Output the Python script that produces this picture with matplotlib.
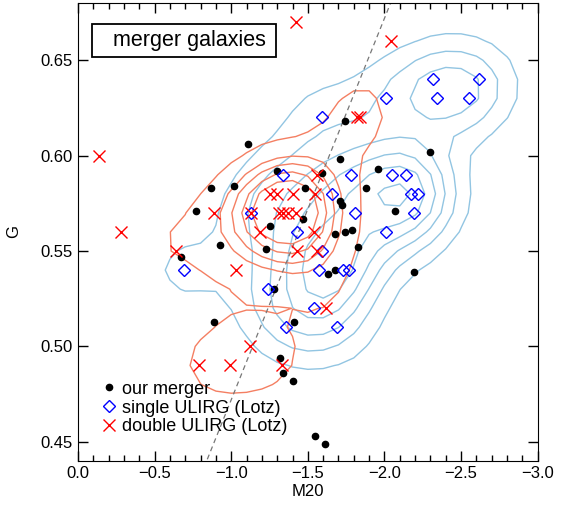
import numpy as np
import matplotlib.pyplot as plt
from matplotlib.patches import Rectangle
from matplotlib.ticker import MultipleLocator, FuncFormatter

plt.rcParams['font.family'] = ['Liberation Sans', 'DejaVu Sans']

# our merger sample
merger_m20 = [-1.11, -0.87, -1.02, -0.77, -0.93, -0.67, -0.89, -1.30, -1.48, -1.74,
              -1.71, -1.59, -1.96, -1.88, -2.30, -1.25, -1.23, -1.28, -1.71, -1.72,
              -1.47, -2.07, -1.68, -1.74, -1.79, -1.83, -1.63, -1.68, -2.19, -1.41,
              -1.32, -1.34, -1.40, -1.55, -1.61]
merger_g = [0.606, 0.583, 0.584, 0.571, 0.553, 0.547, 0.513, 0.592, 0.583, 0.618,
            0.598, 0.591, 0.593, 0.583, 0.602, 0.563, 0.551, 0.530, 0.576, 0.574,
            0.567, 0.571, 0.559, 0.560, 0.561, 0.552, 0.538, 0.540, 0.539, 0.513,
            0.494, 0.486, 0.482, 0.453, 0.449]

# Lotz single ULIRGs
single_m20 = [-1.34, -1.59, -2.01, -2.32, -2.62, -2.34, -2.55, -1.78, -2.05, -2.14,
              -1.66, -1.81, -2.17, -2.22, -2.19, -2.01, -1.59, -1.57, -1.73, -1.77,
              -1.54, -1.69, -1.13, -1.43, -0.69, -1.24, -1.36]
single_g = [0.59, 0.62, 0.63, 0.64, 0.64, 0.63, 0.63, 0.59, 0.59, 0.59,
            0.58, 0.57, 0.58, 0.58, 0.57, 0.56, 0.55, 0.54, 0.54, 0.54,
            0.52, 0.51, 0.57, 0.56, 0.54, 0.53, 0.51]

# Lotz double ULIRGs
double_m20 = [-1.42, -2.04, -1.82, -1.84, -0.14, -1.56, -1.55, -1.25, -1.30, -1.40,
              -0.89, -1.13, -1.31, -1.34, -1.37, -1.42, -0.28, -1.19, -1.54, -0.64,
              -1.43, -1.56, -1.03, -1.62, -1.12, -0.79, -0.99, -1.33]
double_g = [0.67, 0.66, 0.62, 0.62, 0.60, 0.59, 0.58, 0.58, 0.58, 0.58,
            0.57, 0.57, 0.57, 0.57, 0.57, 0.57, 0.56, 0.56, 0.56, 0.55,
            0.55, 0.55, 0.54, 0.52, 0.50, 0.49, 0.49, 0.49]

# contour levels of the smoothed number density
single_levels = [0.85, 1.7, 2.55, 3.4, 4.25, 5.1]
double_levels = [1.6, 3.5, 4.6, 5.8, 7.0]

# merger/non-merger dividing line  G = slope * M20 + intercept
line_slope = -0.2
line_intercept = 0.272

xlim = (0.0, -3.0)
ylim = (0.44, 0.68)


def density(m20, g, gx, gy, bw=0.07):
    # gaussian kernel sum, both axes scaled to their plotted range
    sx = abs(xlim[1] - xlim[0])
    sy = ylim[1] - ylim[0]
    z = np.zeros_like(gx)
    for x, y in zip(m20, g):
        d2 = ((gx - x) / sx) ** 2 + ((gy - y) / sy) ** 2
        z += np.exp(-d2 / (2 * bw ** 2))
    return z


def minus_fmt(fmt):
    return FuncFormatter(lambda v, pos: (fmt % v).replace('-', '\u2212'))


gx, gy = np.meshgrid(np.arange(0.2, -3.21, -0.1), np.arange(0.40, 0.721, 0.01))
z_single = density(single_m20, single_g, gx, gy)
z_double = density(double_m20, double_g, gx, gy)

fig = plt.figure(figsize=(5.69, 5.07), dpi=100)
ax = fig.add_axes([0.137, 0.091, 0.808, 0.903])

ax.contour(gx, gy, z_single, levels=single_levels, colors='#92c5e2', linewidths=1.0)
ax.contour(gx, gy, z_double, levels=double_levels, colors='#f47f62', linewidths=1.0)

lx = np.array([-0.5, -2.5])
ax.plot(lx, line_slope * lx + line_intercept, ls=(0, (4, 3)), color='#777777', lw=0.9)

ax.plot(merger_m20, merger_g, 'o', color='black', ms=4.5, ls='none', label='our merger')
ax.plot(single_m20, single_g, 'D', mfc='none', mec='#0000ff', mew=1.0, ms=6.2,
        ls='none', label='single ULIRG (Lotz)')
ax.plot(double_m20, double_g, 'x', color='#ff0000', mew=1.0, ms=9, ls='none',
        label='double ULIRG (Lotz)')

ax.set_xlim(*xlim)
ax.set_ylim(*ylim)
ax.xaxis.set_major_locator(MultipleLocator(0.5))
ax.xaxis.set_minor_locator(MultipleLocator(0.1))
ax.yaxis.set_major_locator(MultipleLocator(0.05))
ax.xaxis.set_major_formatter(minus_fmt('%.1f'))
ax.yaxis.set_major_formatter(minus_fmt('%.2f'))
ax.tick_params(which='both', direction='in', top=True, right=True, labelsize=12)
ax.tick_params(which='major', length=7, width=1)
ax.tick_params(which='minor', length=4, width=1)
ax.set_xlabel('M20', fontsize=12, labelpad=2)
ax.set_ylabel('G', fontsize=12, labelpad=14)

# title box in the upper left corner
ax.add_patch(Rectangle((0.030, 0.882), 0.401, 0.072, transform=ax.transAxes,
                       fc='white', ec='black', lw=1.3, zorder=5))
ax.text(0.076, 0.918, 'merger galaxies', transform=ax.transAxes, fontsize=15.5,
        va='center', ha='left', zorder=6)

ax.legend(loc='lower left', bbox_to_anchor=(0.029, 0.04), frameon=False, fontsize=13,
          handletextpad=0.1, handlelength=1.2, labelspacing=0.1, borderaxespad=0)

fig.savefig('out.png', dpi=100)
